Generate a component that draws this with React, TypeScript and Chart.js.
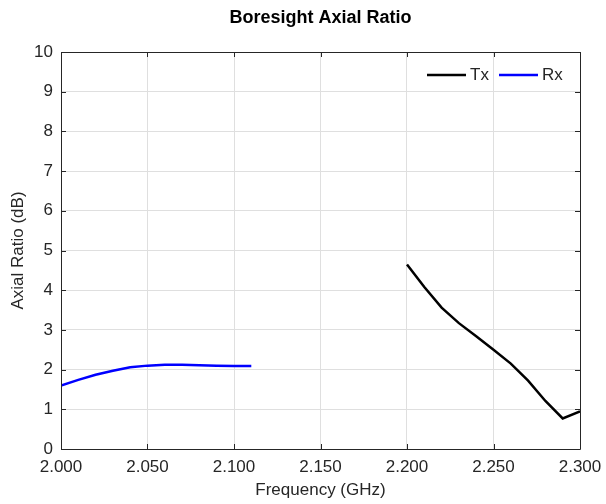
import React, { useEffect, useRef } from "react";
import { Chart, registerables } from "chart.js";

Chart.register(...registerables);

const txFreq = [2.2, 2.21, 2.22, 2.23, 2.24, 2.25, 2.26, 2.27, 2.28, 2.29, 2.3];
const txAR = [4.65, 4.08, 3.56, 3.17, 2.84, 2.5, 2.15, 1.72, 1.21, 0.77, 0.95];
const rxFreq = [2.0, 2.01, 2.02, 2.03, 2.04, 2.05, 2.06, 2.07, 2.08, 2.09, 2.1, 2.11];
const rxAR = [1.6, 1.74, 1.87, 1.97, 2.06, 2.1, 2.12, 2.12, 2.11, 2.1, 2.09, 2.09];
const seriesNames = ["Tx", "Rx"];
const seriesColors = ["#000000", "#0000ff"];
const chartTitle = "Boresight Axial Ratio";

const FONT = "'Liberation Sans', Arial, Helvetica, sans-serif";
const AXIS_COLOR = "#262626";

const boxPlugin = {
  id: "matlabBox",
  afterDraw(chart: any) {
    const { ctx, chartArea: a, scales } = chart;
    const x = scales.x;
    const y = scales.y;
    ctx.save();
    ctx.strokeStyle = AXIS_COLOR;
    ctx.lineWidth = 1;
    ctx.beginPath();
    ctx.rect(Math.round(a.left) + 0.5, Math.round(a.top) + 0.5, Math.round(a.right - a.left), Math.round(a.bottom - a.top));
    ctx.stroke();
    const tl = 5;
    ctx.beginPath();
    x.ticks.forEach((t: any) => {
      const px = Math.round(x.getPixelForValue(t.value)) + 0.5;
      ctx.moveTo(px, a.bottom);
      ctx.lineTo(px, a.bottom - tl);
      ctx.moveTo(px, a.top);
      ctx.lineTo(px, a.top + tl);
    });
    y.ticks.forEach((t: any) => {
      const py = Math.round(y.getPixelForValue(t.value)) + 0.5;
      ctx.moveTo(a.left, py);
      ctx.lineTo(a.left + tl, py);
      ctx.moveTo(a.right, py);
      ctx.lineTo(a.right - tl, py);
    });
    ctx.stroke();

    // title centered over plot area
    ctx.fillStyle = "#000000";
    ctx.font = `bold 18px ${FONT}`;
    ctx.textAlign = "center";
    ctx.textBaseline = "middle";
    ctx.fillText(chartTitle, (a.left + a.right) / 2, 18);

    // legend inside top-right
    ctx.font = `17px ${FONT}`;
    ctx.textBaseline = "middle";
    ctx.textAlign = "left";
    const ly = a.top + 23;
    const items = [
      { x0: 427, label: seriesNames[0], color: seriesColors[0] },
      { x0: 499, label: seriesNames[1], color: seriesColors[1] },
    ];
    items.forEach((it) => {
      ctx.strokeStyle = it.color;
      ctx.lineWidth = 2.5;
      ctx.beginPath();
      ctx.moveTo(it.x0, ly);
      ctx.lineTo(it.x0 + 39, ly);
      ctx.stroke();
      ctx.fillStyle = AXIS_COLOR;
      ctx.fillText(it.label, it.x0 + 43, ly);
    });
    ctx.restore();
  },
};

export default function App() {
  const ref = useRef<HTMLCanvasElement | null>(null);
  useEffect(() => {
    if (!ref.current) return;
    const chart = new Chart(ref.current, {
      type: "line",
      data: {
        datasets: [
          {
            label: seriesNames[0],
            data: txFreq.map((f, i) => ({ x: f, y: txAR[i] })),
            borderColor: seriesColors[0],
            backgroundColor: seriesColors[0],
            borderWidth: 2.5,
            pointRadius: 0,
            tension: 0,
          },
          {
            label: seriesNames[1],
            data: rxFreq.map((f, i) => ({ x: f, y: rxAR[i] })),
            borderColor: seriesColors[1],
            backgroundColor: seriesColors[1],
            borderWidth: 2.5,
            pointRadius: 0,
            tension: 0,
          },
        ],
      },
      options: {
        animation: false,
        responsive: false,
        maintainAspectRatio: false,
        layout: { padding: { left: 0, right: 26, top: 52, bottom: 0 } },
        plugins: {
          legend: { display: false },
          tooltip: { enabled: false },
          title: { display: false },
        },
        scales: {
          x: {
            type: "linear",
            min: 2.0,
            max: 2.3,
            afterFit: (s: any) => {
              s.height = 55;
              s.paddingLeft = 0;
              s.paddingRight = 0;
            },
            ticks: {
              stepSize: 0.05,
              color: AXIS_COLOR,
              font: { family: FONT, size: 17 },
              padding: 8,
              maxRotation: 0,
              autoSkip: false,
              callback: (v: any) => Number(v).toFixed(3),
            },
            grid: { color: "#dfdfdf", drawTicks: false, lineWidth: 1 },
            border: { display: false },
            title: {
              display: true,
              text: "Frequency (GHz)",
              color: AXIS_COLOR,
              font: { family: FONT, size: 17 },
              padding: { top: 0, bottom: 3 },
            },
          },
          y: {
            min: 0,
            max: 10,
            afterFit: (s: any) => {
              s.width = 61;
              s.paddingTop = 0;
              s.paddingBottom = 0;
            },
            ticks: {
              stepSize: 1,
              color: AXIS_COLOR,
              font: { family: FONT, size: 17 },
              padding: 8,
            },
            grid: { color: "#dfdfdf", drawTicks: false, lineWidth: 1 },
            border: { display: false },
            title: {
              display: true,
              text: "Axial Ratio (dB)",
              color: AXIS_COLOR,
              font: { family: FONT, size: 17 },
              padding: { top: 8, bottom: 0 },
            },
          },
        },
      },
      plugins: [boxPlugin],
    });
    return () => chart.destroy();
  }, []);
  return (
    <div style={{ position: "fixed", left: 0, top: 0, width: 606, height: 504, background: "#ffffff" }}>
      <canvas ref={ref} width={606} height={504} style={{ width: 606, height: 504, display: "block" }} />
    </div>
  );
}
